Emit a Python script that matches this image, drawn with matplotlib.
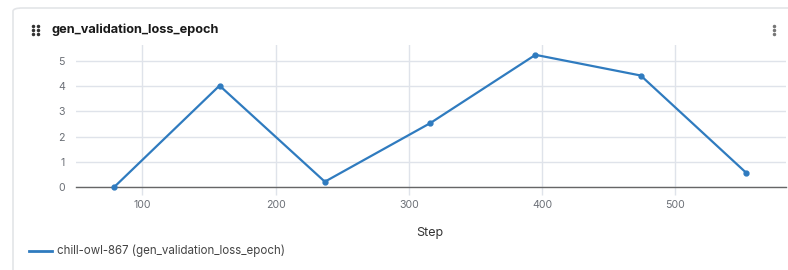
import matplotlib
matplotlib.use("Agg")
import matplotlib.pyplot as plt
from matplotlib.patches import FancyBboxPatch
from matplotlib.lines import Line2D

steps = [79, 158, 237, 316, 395, 474, 553]
loss = [0.0, 4.02, 0.21, 2.53, 5.24, 4.42, 0.57]
x_ticks = [100, 200, 300, 400, 500]
y_ticks = [0, 1, 2, 3, 4, 5]
title = "gen_validation_loss_epoch"
legend_label = "chill-owl-867 (gen_validation_loss_epoch)"
x_label = "Step"

plt.rcParams['font.family'] = ['Inter', 'DejaVu Sans']
W, H = 788, 270
fig = plt.figure(figsize=(W / 100, H / 100), dpi=100)
fig.patch.set_facecolor('white')

# card border
card = FancyBboxPatch((13 / W, -0.1), (W + 20) / W, (H - 8) / H + 0.1,
                      boxstyle="round,pad=0,rounding_size=0.012",
                      transform=fig.transFigure, fill=False,
                      edgecolor='#e3e5e8', linewidth=1.2)
fig.add_artist(card)

color = '#2f7bbf'
ax = fig.add_axes([76 / W, 1 - 187 / H, (786 - 76) / W, (187 - 45) / H])
ax.plot(steps, loss, color=color, linewidth=1.6, marker='o', markersize=3.5,
        clip_on=False, zorder=5)
ax.set_xlim(50.3, 583)
ax.set_ylim(0, 5.63)
ax.set_xticks(x_ticks)
ax.set_yticks(y_ticks)
ax.grid(True, color='#dfe3ea', linewidth=1.0)
ax.set_axisbelow(True)
for s in ['top', 'right', 'left']:
    ax.spines[s].set_visible(False)
ax.spines['bottom'].set_color('#666666')
ax.spines['bottom'].set_linewidth(1.0)
ax.tick_params(axis='both', labelsize=7.6, labelcolor='#6b6f76')
ax.tick_params(axis='x', length=6, width=1.0, color='#dfe3ea', pad=3)
ax.tick_params(axis='y', length=0, pad=8)
ax.set_xlabel(x_label, fontsize=9, color='#333333')
ax.xaxis.set_label_coords((430 - 76) / (786 - 76), -(227 - 187) / (187 - 45))

# title and icons
fig.text(52 / W, 1 - 30 / H, title, fontsize=9.2, fontweight='bold',
         color='#1a1a1a', va='center', ha='left')
for dx in (0, 5):
    for dy in (-4, 0, 4):
        fig.add_artist(Line2D([(33 + dx) / W], [1 - (30 + dy) / H], marker='o',
                              markersize=1.5, color='#333333', linestyle='none',
                              transform=fig.transFigure))
for dy in (-4, 0, 4):
    fig.add_artist(Line2D([774 / W], [1 - (30 + dy) / H], marker='o',
                          markersize=1.5, color='#777777', linestyle='none',
                          transform=fig.transFigure))

# legend
fig.add_artist(Line2D([29 / W, 52 / W], [1 - 251 / H, 1 - 251 / H], color=color,
                      linewidth=2, transform=fig.transFigure))
fig.text(57 / W, 1 - 251 / H, legend_label, fontsize=8.3, color='#444444',
         va='center', ha='left')

fig.savefig('out.png', dpi=100, facecolor='white')
